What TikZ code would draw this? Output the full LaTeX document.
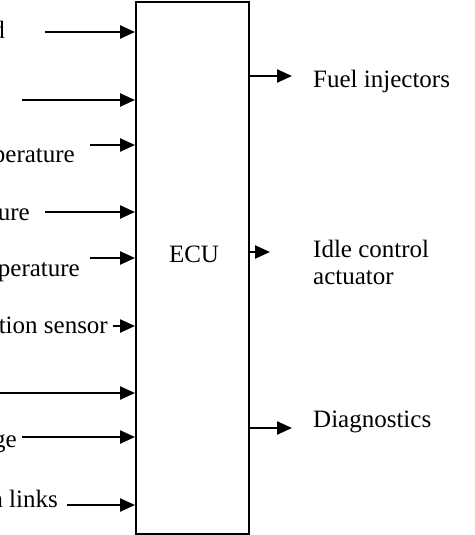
\documentclass[tikz,border=0pt]{standalone}
\usepackage{fontspec}
\setmainfont{Liberation Serif}
\usetikzlibrary{arrows.meta}
\begin{document}
\begin{tikzpicture}[x=1pt,y=-1pt,
  arr/.style={line width=2.4pt,-{Triangle[length=15pt,width=13pt]}},
  lbl/.style={inner sep=0pt,font=\fontsize{25}{27}\selectfont},
  boxst/.style={draw,line width=2pt,inner sep=0pt,minimum width=113pt,minimum height=532pt}]
\useasboundingbox (0,0) rectangle (474,535);
\clip (0,0) rectangle (474,535);
\node[boxst,anchor=north west] (ecu) at (135,1) {};
\node[lbl,anchor=base] (ecutext) at (194,262) {ECU};
% input start points
\coordinate (i1) at (45,32);
\coordinate (i2) at (22,100);
\coordinate (i3) at (90,145);
\coordinate (i4) at (45,212);
\coordinate (i5) at (90,258);
\coordinate (i6) at (113,326);
\coordinate (i7) at (-2,393);
\coordinate (i8) at (22,437);
\coordinate (i9) at (67,505);
\foreach \k in {1,...,9}{\draw[arr] (i\k) -- (i\k -| ecu.west);}
% input labels (cut by the picture edge)
\node[lbl,anchor=base east] (l1) at (5,39) {d};
\node[lbl,anchor=base east] (l3) at (75,162) {perature};
\node[lbl,anchor=base east] (l4) at (30,220) {ure};
\node[lbl,anchor=base east] (l5) at (80,276) {perature};
\node[lbl,anchor=base east] (l6) at (108,333) {tion sensor};
\node[lbl,anchor=base east] (l8) at (17,447) {ge};
\node[lbl,anchor=base east] (l9) at (58,507) {a links};
% outputs
\coordinate (o1) at (292,76);
\coordinate (o2) at (270,252);
\coordinate (o3) at (292,428);
\foreach \k in {1,2,3}{\draw[arr] (ecu.east |- o\k) -- (o\k);}
\node[lbl,anchor=base west] (r1) at (313,88) {Fuel injectors};
\node[lbl,anchor=base west] (r2) at (313,257) {Idle control};
\node[lbl,anchor=base west] (r2b) at (313,284) {actuator};
\node[lbl,anchor=base west] (r3) at (313,427) {Diagnostics};
\end{tikzpicture}
\end{document}
